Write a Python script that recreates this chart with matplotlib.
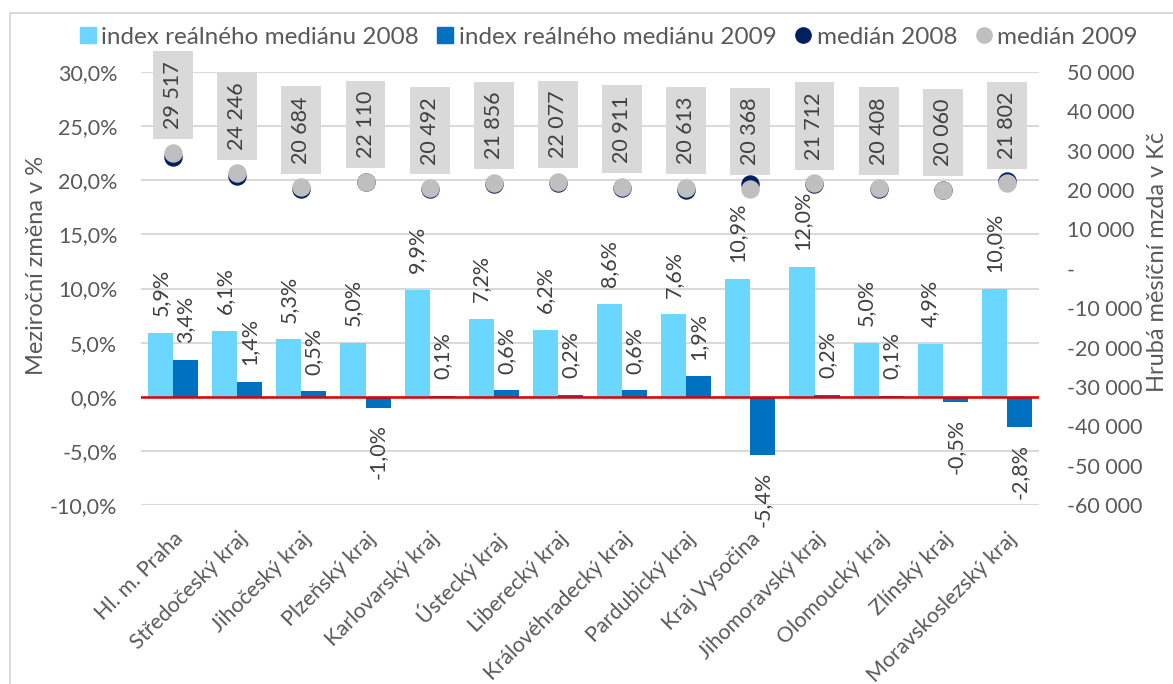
import matplotlib
matplotlib.use("Agg")
import matplotlib.pyplot as plt
from matplotlib.ticker import FuncFormatter, MultipleLocator
from matplotlib.patches import Rectangle
from matplotlib.lines import Line2D

regions = ["Hl. m. Praha", "Středočeský kraj", "Jihočeský kraj", "Plzeňský kraj",
           "Karlovarský kraj", "Ústecký kraj", "Liberecký kraj", "Královéhradecký kraj",
           "Pardubický kraj", "Kraj Vysočina", "Jihomoravský kraj", "Olomoucký kraj",
           "Zlínský kraj", "Moravskoslezský kraj"]
idx_2008 = [5.9, 6.1, 5.3, 5.0, 9.9, 7.2, 6.2, 8.6, 7.6, 10.9, 12.0, 5.0, 4.9, 10.0]
idx_2009 = [3.4, 1.4, 0.5, -1.0, 0.1, 0.6, 0.2, 0.6, 1.9, -5.4, 0.2, 0.1, -0.5, -2.8]
median_2008 = [28300, 23700, 20380, 22100, 20270, 21510, 21820, 20580, 20030, 21450,
               21450, 20190, 19960, 22250]
median_2009 = [29517, 24246, 20684, 22110, 20492, 21856, 22077, 20911, 20613, 20368,
               21712, 20408, 20060, 21802]

C_LIGHT = "#6BD6FF"
C_DARK = "#0070C0"
C_NAVY = "#002060"
C_GREY = "#BFBFBF"
TXT = "#595959"
FONT = ["Lato", "DejaVu Sans"]

plt.rcParams["font.family"] = FONT

W, H = 1173, 684
fig = plt.figure(figsize=(W / 100, H / 100), dpi=100)
fig.patch.set_facecolor("white")
fig.patches.append(Rectangle((10 / W, -0.05), 1.2, 1 - 13 / H + 0.05,
                             transform=fig.transFigure, fill=False,
                             edgecolor="#D9D9D9", linewidth=1.5))

ax = fig.add_axes([141 / W, 1 - 505 / H, (1039 - 141) / W, (505 - 72) / H])
ax2 = ax.twinx()

x = list(range(len(regions)))
w = 0.39
xl = [i - w / 2 for i in x]
xd = [i + w / 2 for i in x]
ax.bar(xl, idx_2008, width=w, color=C_LIGHT, zorder=3)
ax.bar(xd, idx_2009, width=w, color=C_DARK, zorder=3)
ax.axhline(0, color="#E00000", linewidth=1.8, zorder=4)

for xs, vals in ((xl, idx_2008), (xd, idx_2009)):
    for xi, v in zip(xs, vals):
        lab = f"{v:.1f}%".replace(".", ",")
        if v >= 0:
            ax.annotate(lab, (xi, v), xytext=(0, 12), textcoords="offset points",
                        rotation=90, ha="center", va="bottom", fontsize=15.5, color="#404040")
        else:
            ax.annotate(lab, (xi, v), xytext=(0, -12), textcoords="offset points",
                        rotation=90, ha="center", va="top", fontsize=15.5, color="#404040")

ax.set_ylim(-10, 30)
ax.set_xlim(-0.5, len(regions) - 0.5)
ax.yaxis.set_major_locator(MultipleLocator(5))
ax.yaxis.set_major_formatter(FuncFormatter(lambda v, p: f"{v:.1f}%".replace(".", ",")))
ax.grid(axis="y", color="#D9D9D9", linewidth=1.5, zorder=0)
ax.set_axisbelow(True)
ax.set_xticks(x)
ax.set_xticklabels(regions, rotation=45, ha="right", va="top", rotation_mode="anchor",
                   fontsize=15.5, color=TXT)
ax.tick_params(axis="x", length=0, pad=17)
ax.tick_params(axis="y", length=0, pad=17, labelsize=15.5, labelcolor=TXT)
for s in ax.spines.values():
    s.set_visible(False)
fig.text(37 / W, 1 - 265 / H, "Meziroční změna v %", rotation=90,
         ha="center", va="center", fontsize=17, color=TXT)

ax2.scatter(x, median_2008, s=150, color=C_NAVY, zorder=5)
ax2.scatter(x, median_2009, s=150, color=C_GREY, zorder=6)
for xi, v in zip(x, median_2009):
    ax2.annotate(f"{v:,}".replace(",", " "), (xi, v), xytext=(0, 17), textcoords="offset points",
                 rotation=90, ha="center", va="bottom", fontsize=15.5, color="#404040",
                 bbox=dict(boxstyle="square,pad=0.46", facecolor="#D9D9D9", edgecolor="none"),
                 zorder=7)
ax2.set_ylim(-60000, 50000)
ax2.yaxis.set_major_locator(MultipleLocator(10000))
ax2.yaxis.set_major_formatter(FuncFormatter(
    lambda v, p: "-" if abs(v) < 1e-6 else f"{int(round(v)):,}".replace(",", " ")))
ax2.tick_params(axis="y", length=0, pad=20, labelsize=15.5, labelcolor=TXT)
for s in ax2.spines.values():
    s.set_visible(False)
fig.text(1158 / W, 1 - 262 / H, "Hrubá měsíční mzda v Kč", rotation=90,
         ha="center", va="center", fontsize=17, color=TXT)

handles = [
    Line2D([], [], marker="s", linestyle="none", markersize=11, color=C_LIGHT),
    Line2D([], [], marker="s", linestyle="none", markersize=11, color=C_DARK),
    Line2D([], [], marker="o", linestyle="none", markersize=11, color=C_NAVY),
    Line2D([], [], marker="o", linestyle="none", markersize=11, color=C_GREY),
]
labels = ["index reálného mediánu 2008", "index reálného mediánu 2009", "medián 2008", "medián 2009"]
fig.legend(handles, labels, loc="center", bbox_to_anchor=(609 / W, 1 - 37 / H),
           ncol=4, frameon=False, fontsize=17.5, handlelength=0.6, handletextpad=0.25,
           columnspacing=0.8, labelcolor=TXT)

fig.savefig("out.png", dpi=100)
